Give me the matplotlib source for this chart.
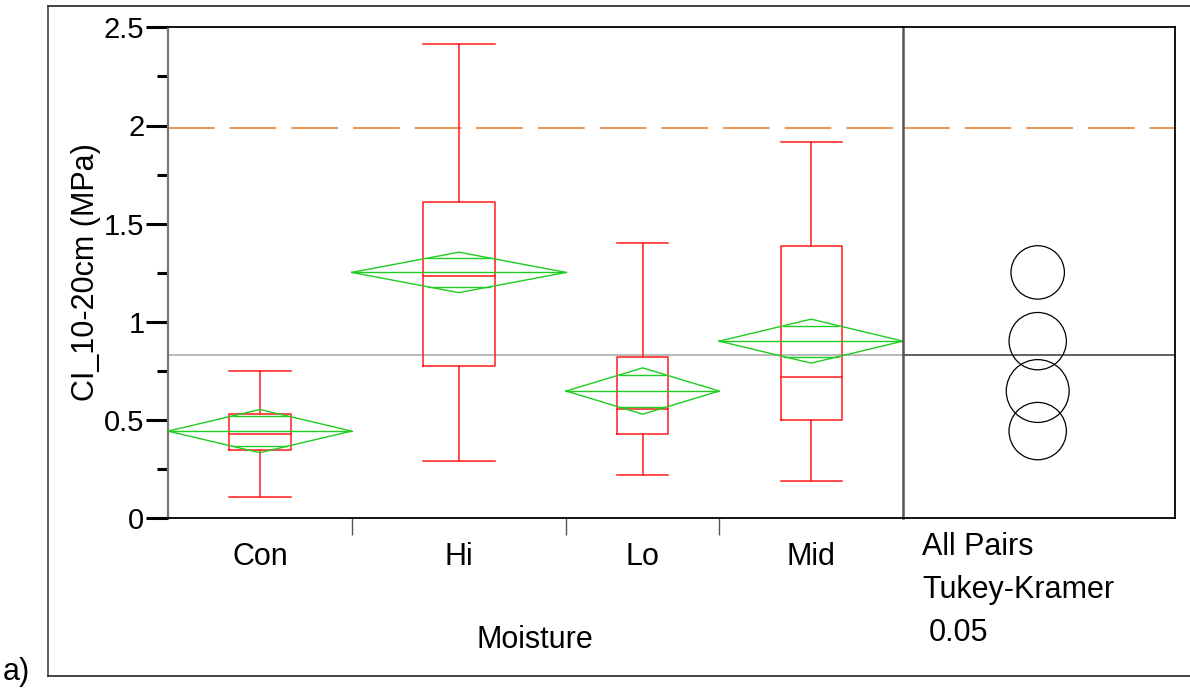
import matplotlib
matplotlib.use("Agg")
import matplotlib.pyplot as plt
from matplotlib.patches import Circle
import numpy as np

plt.rcParams['font.family'] = ['Liberation Sans', 'DejaVu Sans']

# ---- data ----
groups = ["Con", "Hi", "Lo", "Mid"]
n_obs = [12, 14, 10, 12]
means = [0.444, 1.252, 0.648, 0.902]
ci_half = [0.110, 0.103, 0.118, 0.112]
q1 = [0.347, 0.777, 0.429, 0.498]
medians = [0.430, 1.235, 0.555, 0.721]
q3 = [0.530, 1.610, 0.820, 1.389]
whisk_lo = [0.110, 0.292, 0.219, 0.192]
whisk_hi = [0.748, 2.415, 1.400, 1.915]
circle_r = [0.146, 0.136, 0.160, 0.146]
grand_mean = 0.832
ref_line = 1.985
yticks = [0, 0.5, 1, 1.5, 2, 2.5]
ytick_labels = ["0", "0.5", "1", "1.5", "2", "2.5"]
y_label = "CI_10-20cm (MPa)"
x_label = "Moisture"
panel_text = ["All Pairs", "Tukey-Kramer", "0.05"]

W, H = 1190, 696
fig = plt.figure(figsize=(W / 100, H / 100), dpi=100)

def fx(px):
    return px / W

def fy(py):
    return 1 - py / H

FS = 22
ax_l, ax_r, ax_m, ax_t, ax_b = 168, 903, 1175.3, 27.3, 518.3
ax = fig.add_axes([fx(ax_l), fy(ax_b), fx(ax_r - ax_l), (ax_b - ax_t) / H])
ax2 = fig.add_axes([fx(ax_r), fy(ax_b), fx(ax_m - ax_r), (ax_b - ax_t) / H])

total = sum(n_obs)
ax.set_xlim(0, total)
ax.set_ylim(0, 2.5)
px_per_y = (ax_b - ax_t) / 2.5
ax2_w = (ax_m - ax_r) / px_per_y
ax2.set_xlim(0, ax2_w)
ax2.set_ylim(0, 2.5)

red = "#ff1a1a"
green = "#1fcc1f"
orange = "#e8995c"

bounds = np.concatenate([[0], np.cumsum(n_obs)])
for i, g in enumerate(groups):
    x0, x1 = bounds[i], bounds[i + 1]
    xc = (x0 + x1) / 2
    hw = (x1 - x0) / 2
    bw = n_obs[i] / 3 / 2
    # box
    ax.plot([xc - bw, xc + bw, xc + bw, xc - bw, xc - bw],
            [q1[i], q1[i], q3[i], q3[i], q1[i]], color=red, lw=1.1, zorder=3)
    ax.plot([xc - bw, xc + bw], [medians[i]] * 2, color=red, lw=1.1, zorder=3)
    ax.plot([xc, xc], [q3[i], whisk_hi[i]], color=red, lw=1.1, zorder=3)
    ax.plot([xc, xc], [q1[i], whisk_lo[i]], color=red, lw=1.1, zorder=3)
    ax.plot([xc - bw, xc + bw], [whisk_hi[i]] * 2, color=red, lw=1.1, zorder=3)
    ax.plot([xc - bw, xc + bw], [whisk_lo[i]] * 2, color=red, lw=1.1, zorder=3)
    # means diamond
    m, c = means[i], ci_half[i]
    ax.plot([x0, xc, x1, xc, x0], [m, m + c, m, m - c, m], color=green, lw=1.0, zorder=4)
    ax.plot([x0, x1], [m, m], color=green, lw=1.0, zorder=4)
    d = c / np.sqrt(2)
    f = 1 - 1 / np.sqrt(2)
    for s in (1, -1):
        ax.plot([xc - f * hw, xc + f * hw], [m + s * d] * 2, color=green, lw=1.0, zorder=4)
    # category label
    fig.text(fx(ax_l + (xc / total) * (ax_r - ax_l)), fy(557), g,
             ha="center", va="center", fontsize=FS)

# grand mean and reference lines
ax.plot([0, total], [grand_mean] * 2, color="#b4b4b4", lw=1.3, zorder=2)
ax.plot([0, total], [ref_line] * 2, color=orange, lw=1.5, zorder=2,
        dashes=(33.6 / 1.5, 10.8 / 1.5))
ax2.plot([0, ax2_w], [grand_mean] * 2, color="#555555", lw=1.3, zorder=2)
ax2.plot([0, ax2_w], [ref_line] * 2, color=orange, lw=1.5, zorder=2,
         dashes=(33.6 / 1.5, 10.8 / 1.5))

# comparison circles
cx = (1037.7 - ax_r) / px_per_y
for i in range(len(groups)):
    ax2.add_patch(Circle((cx, means[i]), circle_r[i], fill=False,
                         edgecolor="black", lw=0.9, zorder=3))

# axes styling
ax.set_yticks(yticks)
ax.set_yticklabels(ytick_labels, fontsize=21)
ax.set_yticks(np.arange(0.25, 2.5, 0.5), minor=True)
ax.tick_params(axis="y", which="major", length=16, width=2.2, pad=1, color="black")
ax.tick_params(axis="y", which="minor", length=8, width=2.2, color="black")
ax.set_xticks(bounds[1:-1])
ax.set_xticklabels([])
ax.tick_params(axis="x", which="major", length=12, width=1.0, color="#555555")
for sp in ["top", "bottom"]:
    ax.spines[sp].set_color("black")
    ax.spines[sp].set_linewidth(1.3)
ax.spines["left"].set_color("#777777")
ax.spines["left"].set_linewidth(1.6)
ax.spines["right"].set_visible(False)

ax2.set_xticks([])
ax2.set_yticks([])
for sp in ["top", "bottom", "right"]:
    ax2.spines[sp].set_color("black")
    ax2.spines[sp].set_linewidth(1.3)
ax2.spines["left"].set_color("#555555")
ax2.spines["left"].set_linewidth(1.8)

# labels
fig.text(fx(86), fy(272), y_label, rotation=90, ha="center", va="center", fontsize=FS)
fig.text(fx(535), fy(640), x_label, ha="center", va="center", fontsize=FS)
fig.text(fx(922), fy(547), panel_text[0], ha="left", va="center", fontsize=FS)
fig.text(fx(922), fy(590), panel_text[1], ha="left", va="center", fontsize=FS)
fig.text(fx(929), fy(633), panel_text[2], ha="left", va="center", fontsize=FS)
fig.text(fx(3), fy(672), "a)", ha="left", va="center", fontsize=FS)

# outer frame lines
fig.add_artist(plt.Line2D([fx(48), fx(48)], [fy(6), fy(676)], color="#333333", lw=1.1))
fig.add_artist(plt.Line2D([fx(48), fx(1190)], [fy(6), fy(6)], color="#333333", lw=1.3))
fig.add_artist(plt.Line2D([fx(48), fx(1190)], [fy(676), fy(676)], color="#333333", lw=1.3))

fig.savefig("out.png", dpi=100)
